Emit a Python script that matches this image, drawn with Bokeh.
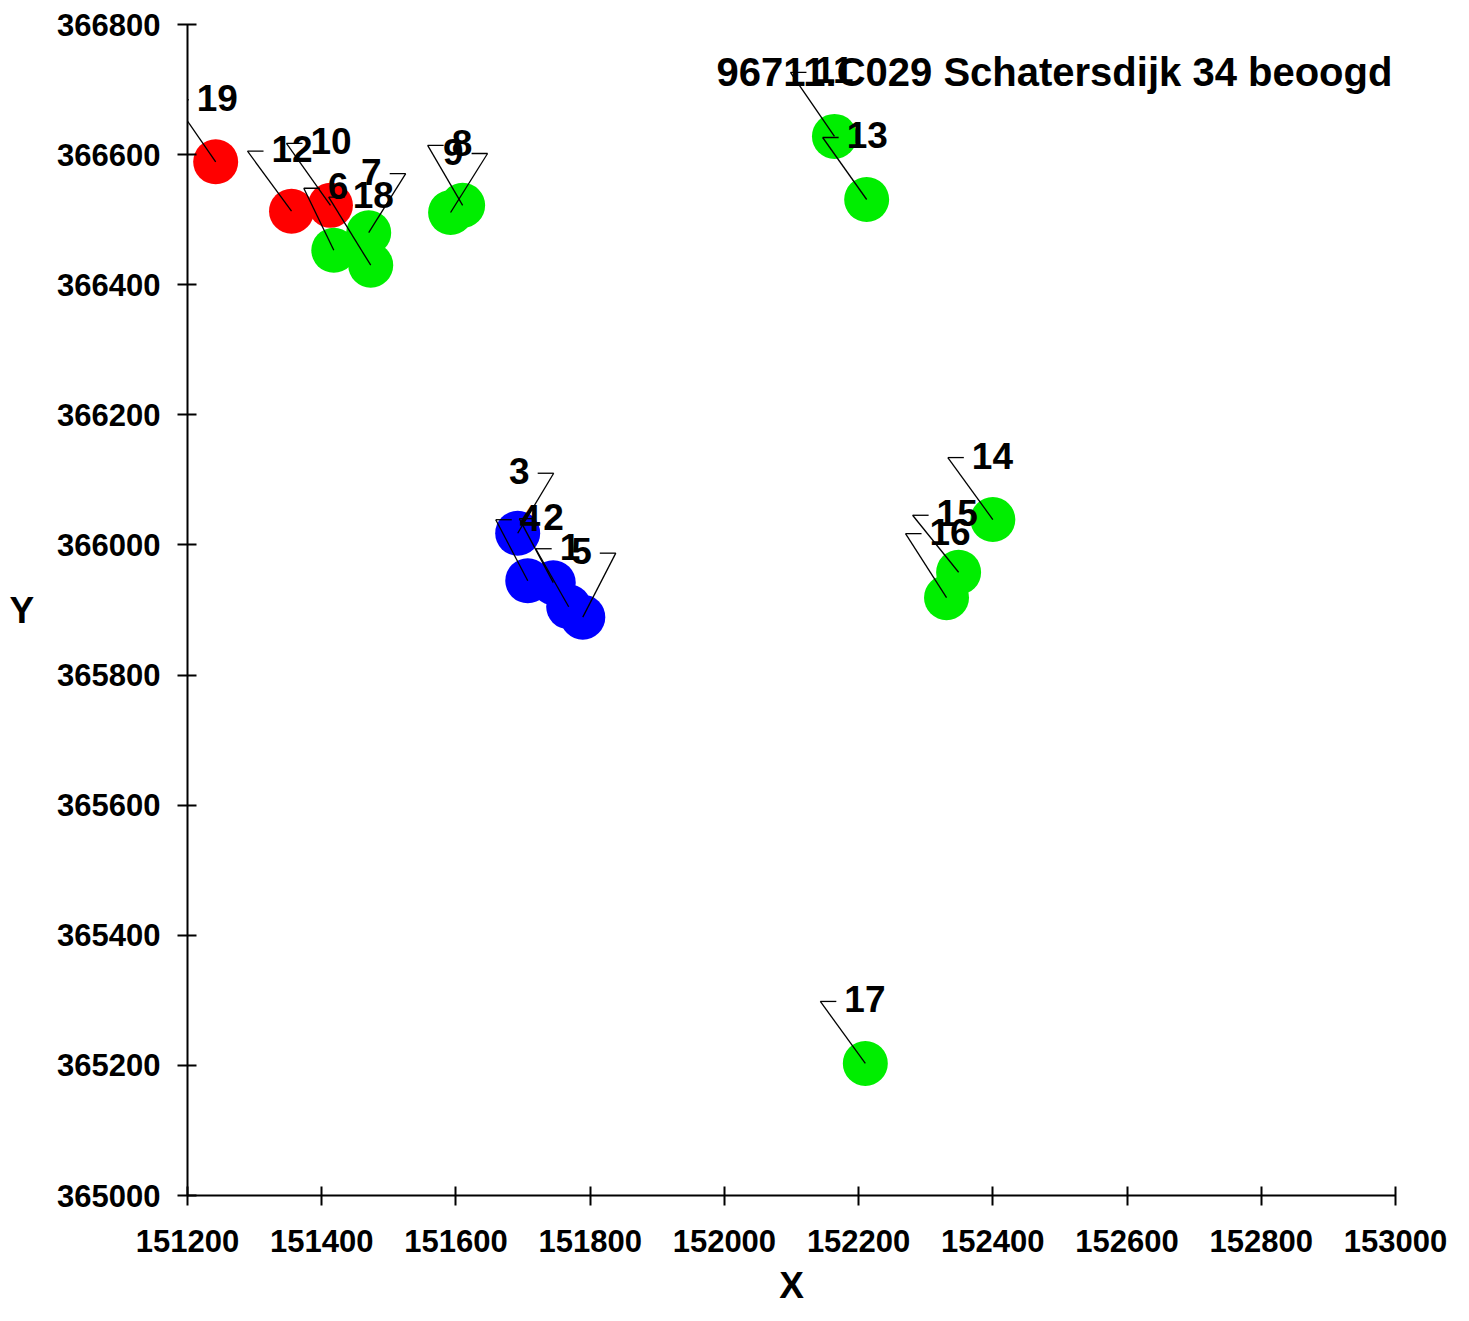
import numpy as np
from bokeh.plotting import figure
from bokeh.models import Label, FixedTicker, Range1d, ColumnDataSource, BasicTickFormatter
from bokeh.embed import file_html
from bokeh.resources import INLINE
from bokeh.core.properties import value

# ---------------- data ----------------
point_ids = ["1", "2", "3", "4", "5", "6", "7", "8", "9", "10",
             "11", "12", "13", "14", "15", "16", "17", "18", "19"]
x_vals = [151768, 151745, 151692, 151707, 151789, 151418, 151470, 151610, 151592, 151413,
          152164, 151355, 152212, 152400, 152349, 152331, 152210, 151473, 151242]
y_vals = [365905, 365942, 366018, 365945, 365889, 366453, 366480, 366522, 366511, 366522,
          366628, 366513, 366531, 366039, 365958, 365919, 365203, 366430, 366589]
point_group = ["blue", "blue", "blue", "blue", "blue", "green", "green", "green", "green", "red",
               "green", "red", "green", "green", "green", "green", "green", "green", "red"]

x_ticks = [151200, 151400, 151600, 151800, 152000, 152200, 152400, 152600, 152800, 153000]
y_ticks = [365000, 365200, 365400, 365600, 365800, 366000, 366200, 366400, 366600, 366800]
title_text = "96711.C029 Schatersdijk 34 beoogd"
x_title = "X"
y_title = "Y"

# ---------------- layout / style ----------------
group_colors = {"red": "#FF0000", "green": "#00EE00", "blue": "#0000FF"}
# label anchor offsets from point (screen px, y downward) and label side
off_dx = [-33, -34, 36, -32, 33, -30, 37, -35, 37, -44, -44, -44, -44, -45, -46, -41, -45, -42, -43]
off_dy = [-58, -64, -60, -61, -64, -62, -59, -60, -59, -62, -64, -60, -62, -62, -57, -64, -62, -68, -62]
side = [1, 1, -1, 1, -1, 1, -1, 1, -1, 1, 1, 1, 1, 1, 1, 1, 1, 1, 1]

X0, X1 = x_ticks[0], x_ticks[-1]
Y0, Y1 = y_ticks[0], y_ticks[-1]
FRAME_W, FRAME_H = 1208, 1171
FL, FT = 187, 24
W, H = 1460, 1320
sx = (X1 - X0) / FRAME_W   # data per px
sy = (Y1 - Y0) / FRAME_H

p = figure(width=W, height=H, output_backend="svg", toolbar_location=None,
           x_range=Range1d(X0, X1), y_range=Range1d(Y0, Y1),
           min_border_left=FL, min_border_top=FT,
           min_border_right=W - FL - FRAME_W, min_border_bottom=H - FT - FRAME_H)
p.grid.visible = False
p.outline_line_color = None
p.background_fill_color = "white"
p.border_fill_color = "white"

for ax, ticks, standoff in ((p.xaxis[0], x_ticks, 24), (p.yaxis[0], y_ticks, 17)):
    ax.ticker = FixedTicker(ticks=ticks)
    ax.formatter = BasicTickFormatter(use_scientific=False)
    ax.axis_line_width = 2
    ax.axis_line_color = "black"
    ax.major_tick_line_width = 2
    ax.major_tick_line_color = "black"
    ax.major_tick_in = 9
    ax.major_tick_out = 10
    ax.minor_tick_line_color = None
    ax.major_label_text_font = "Liberation Sans"
    ax.major_label_text_font_style = "bold"
    ax.major_label_text_font_size = "31px"
    ax.major_label_text_color = "black"
    ax.major_label_standoff = standoff
    ax.axis_label_text_font = "Liberation Sans"
    ax.axis_label_text_font_style = "bold"
    ax.axis_label_text_font_size = "37px"
    ax.axis_label_text_color = "black"

p.xaxis[0].axis_label = x_title
p.xaxis[0].axis_label_standoff = 10
p.yaxis[0].axis_label = y_title
p.yaxis[0].axis_label_standoff = 20
if "axis_label_orientation" in p.yaxis[0].properties():
    p.yaxis[0].axis_label_orientation = "horizontal"

xs = np.array(x_vals, dtype=float)
ys = np.array(y_vals, dtype=float)
ax_ = xs + np.array(off_dx) * sx
ay_ = ys - np.array(off_dy) * sy
sd = np.array(side)
cols = [group_colors[g] for g in point_group]

order = [i for g in ("red", "green", "blue") for i in range(len(xs)) if point_group[i] == g]
src_pts = ColumnDataSource(dict(x=xs[order], y=ys[order], c=[cols[i] for i in order]))
p.scatter("x", "y", source=src_pts, size=45, fill_color="c", line_color=None)

# leader lines: short horizontal tick + diagonal to the point
p.segment(x0=ax_, y0=ay_, x1=ax_ + sd * 16 * sx, y1=ay_, line_color="black", line_width=1.3)
p.segment(x0=ax_, y0=ay_, x1=xs, y1=ys, line_color="black", line_width=1.3)

tx = ax_ + sd * 24 * sx
ty = ay_ + 2 * sy
for s_val, align in ((1, "left"), (-1, "right")):
    idx = [i for i in range(len(xs)) if side[i] == s_val]
    p.text(x=tx[idx], y=ty[idx], text=[point_ids[i] for i in idx],
           text_font=value("Liberation Sans"), text_font_style="bold",
           text_font_size="37px", text_color="black",
           text_align=align, text_baseline="middle")

p.add_layout(Label(x=X0 + (716 - FL) * sx, y=Y1 - (71 - FT) * sy, text=title_text,
                   text_font="Liberation Sans", text_font_style="bold", text_font_size="40px",
                   text_color="black", text_align="left", text_baseline="middle"))

open("out.html", "w").write(file_html(p, INLINE))
